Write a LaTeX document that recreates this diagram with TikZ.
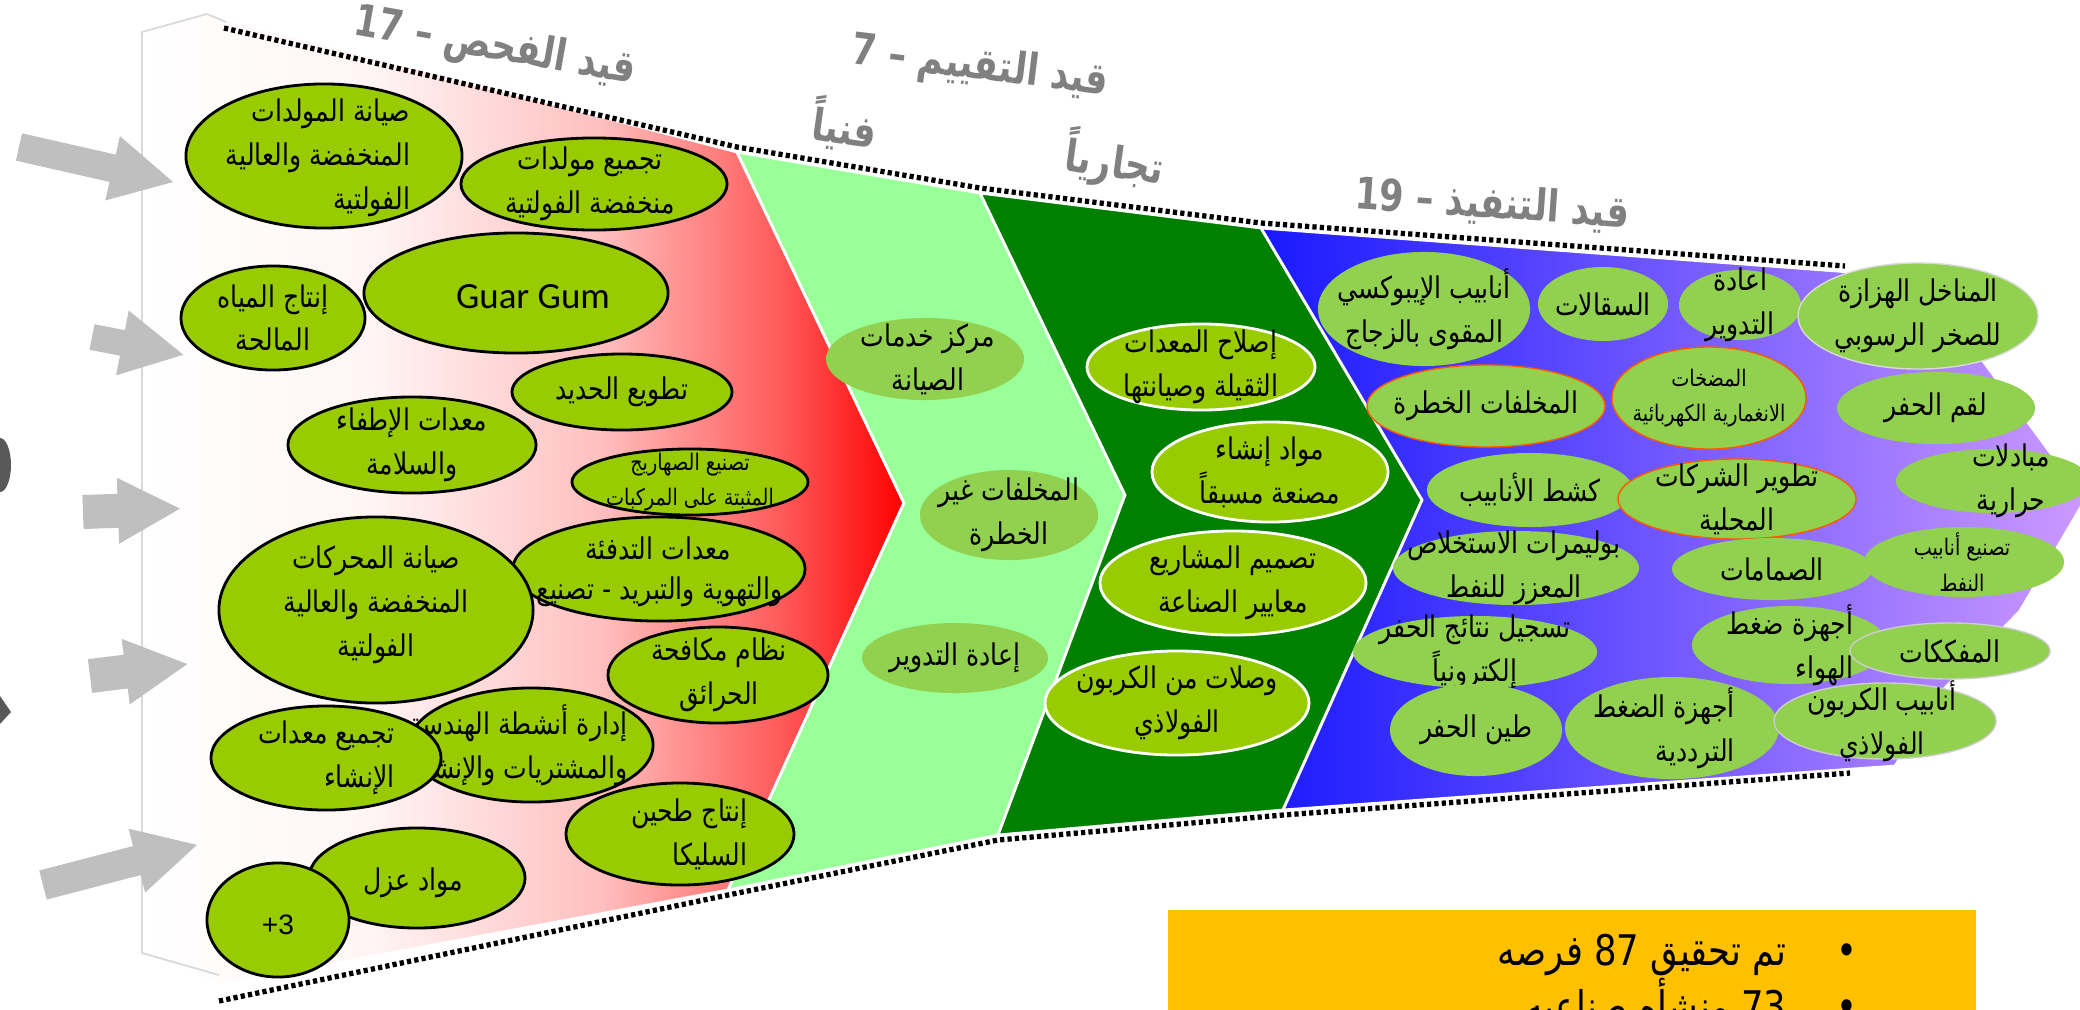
\documentclass[tikz,border=0pt]{standalone}
\usepackage{fontspec}
\setmainfont{Liberation Sans}
\newfontfamily\arabicfont[Script=Arabic, FakeStretch=0.84]{DejaVu Sans}
\newfontfamily\stagefont[Script=Arabic, FakeStretch=0.8]{DejaVu Sans}
\newfontfamily\guarfont{Carlito}
\TeXXeTstate=1
\usetikzlibrary{shapes.geometric,shadings}
\definecolor{olivebub}{HTML}{99CC00}
\definecolor{leafbub}{HTML}{92D050}
\definecolor{mintband}{HTML}{99FF99}
\definecolor{darkband}{HTML}{008000}
\definecolor{arrowgray}{HTML}{BFBFBF}
\definecolor{titlegray}{HTML}{808080}
\definecolor{notebox}{HTML}{FFC000}
\definecolor{bandblue}{RGB}{25,25,255}
\definecolor{bandlilac}{RGB}{204,153,255}
\pgfdeclarehorizontalshading{redfade}{100bp}{color(0bp)=(white); color(25bp)=(white); color(40bp)=(red!4); color(55bp)=(red!25); color(67bp)=(red!65); color(75bp)=(red); color(100bp)=(red)}
\newcommand\artext[1]{{\beginR #1\endR}}
\tikzset{
   bub/.style={ellipse, inner sep=0pt},
   redbub/.style={bub, fill=olivebub, draw=black, line width=0.8pt},
   mintbub/.style={bub, fill=leafbub},
   darkbub/.style={bub, fill=olivebub, draw=white, line width=0.8pt},
   bluebub/.style={bub, fill=leafbub},
   rimbub/.style={bluebub, draw=orange!70!red, line width=0.4pt},
   lbl/.style={font=\arabicfont\fontsize{8.5}{12.5}\selectfont, align=center, inner sep=0pt},
   smalllbl/.style={lbl, font=\arabicfont\fontsize{6.5}{10}\selectfont},
   stage/.style={font=\stagefont\bfseries\fontsize{12.5}{15}\selectfont, text=titlegray, inner sep=0pt},
   notetext/.style={font=\arabicfont\fontsize{12}{14}\selectfont, inner sep=0pt},
   dotrule/.style={line width=1.5pt, dash pattern=on 1.2pt off 0.9pt},
   band/.style={draw=white, line width=0.8pt}
}
\begin{document}
\begin{tikzpicture}[x=0.01cm, y=-0.01cm]
\useasboundingbox (0,0) rectangle (2080,1009);

\path[band, shading=redfade] (142,32) -- (207,14) -- (737,152) -- (904,503) -- (728,890) -- (219,985) -- (142,953) -- cycle;
\draw[gray!30, line width=0.5pt] (219,975) -- (142,953) -- (142,32) -- (207,14) -- (226,22);
\path[band, fill=mintband] (737,152) -- (980,193) -- (1125,495) -- (998,835) -- (728,890) -- (904,503) -- cycle;
\path[band, fill=darkband] (980,193) -- (1261,228) -- (1422,500) -- (1283,810) -- (998,835) -- (1125,495) -- cycle;
\path[band, left color=bandblue, right color=bandlilac] (1261,228) -- (1850,272) -- (1975,350) -- (2085,500) -- (2020,611) -- (1943,690) -- (1895,766) -- (1283,810) -- (1422,500) -- cycle;

\draw[dotrule] (224,28) -- (737,147) -- (980,188) -- (1261,223) -- (1845,266);
\draw[dotrule] (219,1001) -- (728,895) -- (998,840) -- (1283,815) -- (1850,773);

\fill[gray!70!black] (0,465) ellipse (11 and 27);
\fill[gray!70!black] (0,696) -- (11,712) -- (0,724) -- cycle;
\foreach \ax/\ay/\alen/\aang/\asw in {19/147/158/-12.8/14, 92/337/93/-11/13, 83/512/97/2/17, 90/676/98/7/17, 43/885/159/14.6/15}{
   \fill[arrowgray, shift={(\ax,\ay)}, rotate=\aang] (0,-\asw) -- (\alen-62,-\asw) -- (\alen-62,-33) -- (\alen,0) -- (\alen-62,33) -- (\alen-62,\asw) -- (0,\asw) -- cycle;
}

\node[stage, rotate=-10] (inspect) at (495,48) {\artext{قيد الفحص – \beginL 17\endL}};
\node[stage, rotate=-7] (assess) at (980,68) {\artext{قيد التقييم – \beginL 7\endL}};
\node[stage, rotate=-8] (tech) at (845,125) {\artext{فنياً}};
\node[stage, rotate=-8] (comm) at (1115,160) {\artext{تجارياً}};
\node[stage, rotate=-4] (exec) at (1492,205) {\artext{قيد التنفيذ – \beginL 19\endL}};

\node[redbub, minimum width=2.76cm, minimum height=1.44cm] (genmaint) at (324,156) {};
\node[lbl, align=right] at (318,158) {\artext{صيانة المولدات}\\\artext{المنخفضة والعالية}\\\artext{الفولتية}};
\node[redbub, minimum width=2.66cm, minimum height=0.92cm] (genassy) at (594,184) {};
\node[lbl] at (590,184) {\artext{تجميع مولدات}\\\artext{منخفضة الفولتية}};
\node[redbub, minimum width=3.04cm, minimum height=1.20cm] (guar) at (516,293) {};
\node[font=\guarfont\fontsize{10.5}{12}\selectfont, inner sep=0pt] at (533,297) {Guar Gum};
\node[redbub, minimum width=1.84cm, minimum height=1.04cm] (water) at (273,318) {};
\node[lbl] at (273,318) {\artext{إنتاج المياه}\\\artext{المالحة}};
\node[redbub, minimum width=2.20cm, minimum height=0.76cm] (iron) at (622,392) {};
\node[lbl] at (622,392) {\artext{تطويع الحديد}};
\node[redbub, minimum width=2.48cm, minimum height=0.96cm] (fire) at (412,445) {};
\node[lbl] at (412,445) {\artext{معدات الإطفاء}\\\artext{والسلامة}};
\node[redbub, minimum width=2.36cm, minimum height=0.66cm] (tanks) at (690,482) {};
\node[smalllbl] at (690,482) {\artext{تصنيع الصهاريج}\\\artext{المثبتة على المركبات}};
\node[redbub, minimum width=2.92cm, minimum height=1.04cm] (hvac) at (659,569) {};
\node[lbl] at (658,548) {\artext{معدات التدفئة}};
\node[lbl, anchor=east] at (783,592) {\artext{والتهوية والتبريد - تصنيع}};
\node[redbub, minimum width=3.14cm, minimum height=1.86cm] (engine) at (376,610) {};
\node[lbl] at (376,605) {\artext{صيانة المحركات}\\\artext{المنخفضة والعالية}\\\artext{الفولتية}};
\node[redbub, minimum width=2.20cm, minimum height=0.96cm] (firefight) at (718,675) {};
\node[lbl] at (719,675) {\artext{نظام مكافحة}\\\artext{الحرائق}};
\node[redbub, minimum width=2.44cm, minimum height=1.14cm] (epc) at (531,745) {};
\node[lbl, align=right, anchor=east] at (628,745) {\artext{إدارة أنشطة الهندسة}\\\artext{والمشتريات والإنشاء}};
\node[redbub, minimum width=2.30cm, minimum height=1.04cm] (conassy) at (326,758) {};
\node[lbl, align=right, anchor=east] at (395,758) {\artext{تجميع معدات}\\\artext{الإنشاء}};
\node[redbub, minimum width=2.28cm, minimum height=1.02cm] (silica) at (680,834) {};
\node[lbl, align=right, anchor=east] at (748,834) {\artext{إنتاج طحين}\\\artext{السليكا}};
\node[redbub, minimum width=2.16cm, minimum height=1.00cm] (insul) at (417,878) {};
\node[lbl] at (413,883) {\artext{مواد عزل}};
\node[redbub, minimum width=1.42cm, minimum height=1.14cm] (more) at (278,920) {};
\node[font=\fontsize{8}{10}\selectfont, inner sep=0pt] at (278,925) {+3};

\node[mintbub, minimum width=1.98cm, minimum height=0.82cm] (service) at (925,359) {};
\node[lbl] at (928,359) {\artext{مركز خدمات}\\\artext{الصيانة}};
\node[mintbub, minimum width=1.78cm, minimum height=0.90cm] (waste) at (1009,515) {};
\node[lbl] at (1009,515) {\artext{المخلفات غير}\\\artext{الخطرة}};
\node[mintbub, minimum width=1.86cm, minimum height=0.70cm] (recyc) at (955,658) {};
\node[lbl] at (955,658) {\artext{إعادة التدوير}};

\node[darkbub, minimum width=2.28cm, minimum height=0.86cm] (repair) at (1201,367) {};
\node[lbl] at (1201,367) {\artext{إصلاح المعدات}\\\artext{الثقيلة وصيانتها}};
\node[darkbub, minimum width=2.36cm, minimum height=1.00cm] (precast) at (1270,472) {};
\node[lbl] at (1270,472) {\artext{مواد إنشاء}\\\artext{مصنعة مسبقاً}};
\node[darkbub, minimum width=2.66cm, minimum height=1.04cm] (design) at (1233,583) {};
\node[lbl] at (1233,583) {\artext{تصميم المشاريع}\\\artext{معايير الصناعة}};
\node[darkbub, minimum width=2.64cm, minimum height=1.04cm] (carbon) at (1177,703) {};
\node[lbl] at (1177,703) {\artext{وصلات من الكربون}\\\artext{الفولاذي}};

\node[bluebub, minimum width=2.12cm, minimum height=1.14cm] (epoxy) at (1424,309) {};
\node[lbl] at (1424,309) {\artext{أنابيب الإيبوكسي}\\\artext{المقوى بالزجاج}};
\node[bluebub, minimum width=1.30cm, minimum height=0.74cm] (scaff) at (1603,304) {};
\node[lbl] at (1603,304) {\artext{السقالات}};
\node[bluebub, minimum width=1.22cm, minimum height=0.70cm] (recyc2) at (1740,305) {};
\node[lbl] at (1740,305) {\artext{اعادة}\\\artext{التدوير}};
\node[bluebub, draw=gray!30, line width=0.4pt, minimum width=2.40cm, minimum height=1.06cm] (sieve) at (1918,316) {};
\node[lbl] at (1918,316) {\artext{المناخل الهزازة}\\\artext{للصخر الرسوبي}};
\node[rimbub, minimum width=2.38cm, minimum height=0.82cm] (hazard) at (1486,406) {};
\node[lbl] at (1486,406) {\artext{المخلفات الخطرة}};
\node[rimbub, minimum width=1.94cm, minimum height=1.02cm] (pumps) at (1709,398) {};
\node[smalllbl] at (1709,398) {\artext{المضخات}\\\artext{الانغمارية الكهربائية}};
\node[bluebub, minimum width=1.98cm, minimum height=0.72cm] (bits) at (1936,408) {};
\node[lbl] at (1936,408) {\artext{لقم الحفر}};
\node[bluebub, minimum width=2.06cm, minimum height=0.74cm] (pigging) at (1530,490) {};
\node[lbl] at (1530,490) {\artext{كشط الأنابيب}};
\node[rimbub, minimum width=2.38cm, minimum height=0.80cm] (localdev) at (1737,499) {};
\node[lbl] at (1737,499) {\artext{تطوير الشركات}\\\artext{المحلية}};
\node[bluebub, minimum width=1.94cm, minimum height=0.64cm] (heatx) at (1993,481) {};
\node[lbl] at (2011,481) {\artext{مبادلات}\\\artext{حرارية}};
\node[bluebub, minimum width=2.46cm, minimum height=0.74cm] (eor) at (1516,568) {};
\node[lbl] at (1514,568) {\artext{بوليمرات الاستخلاص}\\\artext{المعزز للنفط}};
\node[bluebub, minimum width=2.00cm, minimum height=0.62cm] (valves) at (1772,569) {};
\node[lbl] at (1772,569) {\artext{الصمامات}};
\node[bluebub, minimum width=2.00cm, minimum height=0.70cm] (octg) at (1964,562) {};
\node[smalllbl] at (1962,562) {\artext{تصنيع أنابيب}\\\artext{النفط}};
\node[bluebub, minimum width=2.44cm, minimum height=0.72cm] (logging) at (1475,652) {};
\node[lbl] at (1475,652) {\artext{تسجيل نتائج الحفر}\\\artext{إلكترونياً}};
\node[bluebub, minimum width=1.96cm, minimum height=0.78cm] (aircomp) at (1790,645) {};
\node[lbl, align=right] at (1790,645) {\artext{أجهزة ضغط}\\\artext{الهواء}};
\node[bluebub, draw=gray!40, line width=0.4pt, minimum width=2.00cm, minimum height=0.56cm] (tools) at (1950,651) {};
\node[lbl] at (1950,651) {\artext{المفككات}};
\node[bluebub, minimum width=1.72cm, minimum height=0.92cm] (mud) at (1476,730) {};
\node[lbl] at (1476,730) {\artext{طين الحفر}};
\node[bluebub, minimum width=2.14cm, minimum height=1.02cm] (recip) at (1672,728) {};
\node[lbl, align=right] at (1664,728) {\artext{أجهزة الضغط}\\\artext{الترددية}};
\node[bluebub, draw=gray!40, line width=0.4pt, minimum width=2.22cm, minimum height=0.76cm] (cspipe) at (1885,721) {};
\node[lbl] at (1882,721) {\artext{أنابيب الكربون}\\\artext{الفولاذي}};

\node[fill=notebox, anchor=north west, inner sep=0pt, minimum width=8.08cm, minimum height=1.10cm] (summary) at (1167,909) {};
\node[notetext, anchor=base east] (done) at (1787,965) {\artext{تم تحقيق \beginL 87\endL{} فرصه}};
\node[notetext, anchor=base east] (plants) at (1787,1021) {\artext{\beginL 73\endL{} منشأه صناعيه}};
\node[notetext, anchor=base] at (1847,965) {•};
\node[notetext, anchor=base] at (1847,1021) {•};
\end{tikzpicture}
\end{document}
